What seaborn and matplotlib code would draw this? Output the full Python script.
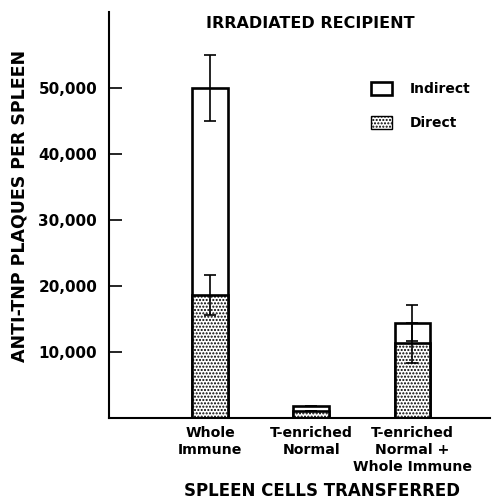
import pandas as pd
import matplotlib
matplotlib.use("Agg")
import matplotlib.pyplot as plt
import seaborn as sns
from matplotlib.patches import Patch
from matplotlib.ticker import FuncFormatter

categories = ["Whole\nImmune", "T-enriched\nNormal", "T-enriched\nNormal +\nWhole Immune"]
total = [50000, 1800, 14400]
direct = [18600, 1000, 11400]
total_err = [5000, 0, 2700]
direct_err = [3000, 0, 3000]
yticks = [10000, 20000, 30000, 40000, 50000]


def main():
    sns.set_style("ticks")
    plt.rcParams['font.family'] = ['DejaVu Sans']
    plt.rcParams['font.weight'] = 'bold'
    plt.rcParams['hatch.linewidth'] = 1.0
    for key in ['text.color', 'axes.labelcolor', 'xtick.color', 'ytick.color',
                'axes.edgecolor']:
        plt.rcParams[key] = 'black'

    df = pd.DataFrame({'cells': categories, 'total': total, 'direct': direct})

    fig = plt.figure(figsize=(4.94, 5.03), dpi=100)
    ax = fig.add_axes([0.2206, 0.169, 0.7714, 0.807])

    sns.barplot(x='cells', y='total', data=df, ax=ax, color='white',
                edgecolor='black', linewidth=1.9, width=0.35, saturation=1)
    n = len(ax.patches)
    sns.barplot(x='cells', y='direct', data=df, ax=ax, color='white',
                edgecolor='black', linewidth=1.9, width=0.35, saturation=1)
    for p in ax.patches[n:]:
        p.set_hatch('.....')

    xs = range(len(categories))
    ax.errorbar(xs, total, yerr=total_err, fmt='none', ecolor='black',
                elinewidth=1.2, capsize=4, capthick=1.2, zorder=5)
    ax.errorbar(xs, direct, yerr=direct_err, fmt='none', ecolor='black',
                elinewidth=1.2, capsize=4, capthick=1.2, zorder=5)

    ax.set_xlim(-1.0, 2.77)
    ax.set_ylim(0, 61500)
    ax.set_yticks(yticks)
    ax.yaxis.set_major_formatter(FuncFormatter(lambda v, p: f"{int(v):,}"))
    ax.tick_params(axis='y', direction='in', length=9, width=1.2, pad=8.5,
                   labelsize=11)
    ax.tick_params(axis='x', length=0, pad=6, labelsize=10.2)
    for lab in ax.get_xticklabels() + ax.get_yticklabels():
        lab.set_fontweight('bold')
        lab.set_linespacing(1.25)

    sns.despine(ax=ax)
    ax.spines['left'].set_linewidth(1.5)
    ax.spines['bottom'].set_linewidth(1.5)

    ax.set_xlabel('SPLEEN CELLS TRANSFERRED', fontsize=12, fontweight='bold')
    ax.xaxis.set_label_coords(0.56, -0.158)
    ax.set_ylabel('ANTI-TNP PLAQUES PER SPLEEN', fontsize=12.5, fontweight='bold')
    ax.yaxis.set_label_coords(-0.21, 0.522)

    ax.text(0.528, 0.973, 'IRRADIATED RECIPIENT', transform=ax.transAxes,
            ha='center', va='center', fontsize=11.5, fontweight='bold')

    handles = [Patch(facecolor='white', edgecolor='black', linewidth=1.9),
               Patch(facecolor='white', edgecolor='black', linewidth=1.0, hatch='.....')]
    ax.legend(handles, ['Indirect', 'Direct'], loc='upper left',
              bbox_to_anchor=(0.688, 0.828), frameon=False, fontsize=10,
              handlelength=1.5, handleheight=1.1, labelspacing=1.4,
              handletextpad=1.3, borderpad=0, borderaxespad=0)

    fig.savefig('out.png', dpi=100)
    plt.close(fig)


if __name__ == "__main__":
    main()
